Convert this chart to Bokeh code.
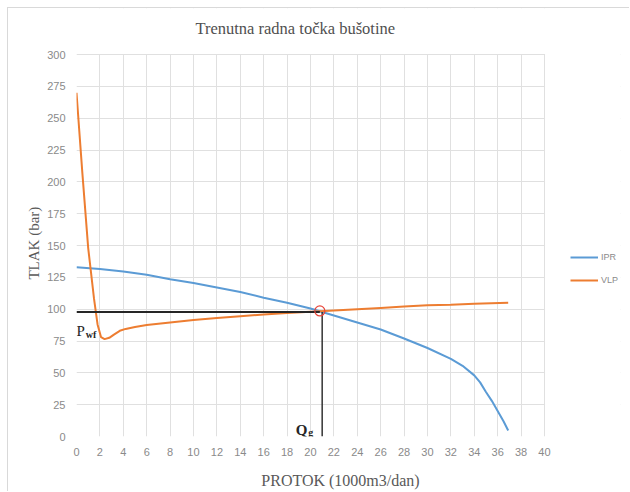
from bokeh.plotting import figure
from bokeh.models import Legend, LegendItem, Label, Range1d, FixedTicker, BoxAnnotation
from bokeh.embed import file_html
from bokeh.resources import INLINE

# ---- data ----
ipr_q = [0, 2, 4, 6, 8, 10, 12, 14, 16, 18, 20, 22, 24, 26, 28, 30, 32, 33, 34, 34.5, 35, 35.5, 36, 36.5, 36.9]
ipr_p = [133, 131.5, 129.5, 127, 123.5, 120.5, 117, 113.5, 109, 105, 100.5, 95, 89.5, 84, 77, 69.5, 61, 55.5, 48, 42.5, 35, 28, 20, 12, 4.7]

vlp_q = [0, 0.5, 1.0, 1.5, 1.8, 2.1, 2.4, 2.8, 3.2, 3.7, 4.2, 5, 6, 8, 10, 12, 14, 16, 18, 20, 22, 24, 26, 28, 30, 32, 34, 36.9]
vlp_p = [270, 207, 148, 108, 88, 78, 76.5, 77.5, 80, 83, 84.5, 86, 87.5, 89.5, 91.5, 93, 94.5, 95.8, 97, 98, 99, 100, 101, 102, 103, 103.5, 104.2, 105]

pwf = 97.8        # bottomhole flowing pressure (bar)
qg = 21.0         # gas rate (1000 m3/dan)
op_q = [20.8]     # operating point
op_p = [98.6]

x_ticks = list(range(0, 41, 2))
y_ticks = list(range(0, 301, 25))

title_text = "Trenutna radna točka bušotine"
x_label = "PROTOK (1000m3/dan)"
y_label = "TLAK (bar)"

X_MAX, Y_MAX = 40, 300
X_VIEW = 46.5     # frame extends right to hold the legend
Y_VIEW = 336.13   # frame extends up to hold the title

# ---- figure ----
p = figure(width=622, height=484, output_backend="svg", toolbar_location=None,
           x_range=Range1d(0, X_VIEW), y_range=Range1d(0, Y_VIEW),
           min_border_left=68, min_border_right=10, min_border_top=0, min_border_bottom=56)
p.styles = {"margin-left": "7px", "margin-top": "7px",
            "border-left": "1px solid #d9d9d9", "border-top": "1px solid #d9d9d9"}
p.outline_line_color = None
p.background_fill_color = "white"
p.border_fill_color = "white"

p.xaxis.ticker = FixedTicker(ticks=x_ticks)
p.yaxis.ticker = FixedTicker(ticks=y_ticks)
p.xaxis.bounds = (0, X_MAX)
p.yaxis.bounds = (0, Y_MAX)
for ax in (p.xaxis[0], p.yaxis[0]):
    ax.axis_line_color = None
    ax.major_tick_line_color = None
    ax.minor_tick_line_color = None
    ax.major_label_text_color = "#8a8a8a"
    ax.major_label_text_font = "Liberation Sans"
    ax.major_label_text_font_size = "11px"
    ax.axis_label_text_font = "Liberation Serif"
    ax.axis_label_text_font_style = "normal"
    ax.axis_label_text_color = "#595959"
# trailing no-break spaces shift the centred labels to sit beside the plotted area
p.xaxis.axis_label = x_label + "\u00a0" * 4
p.yaxis.axis_label = y_label + "\u00a0" * 11
p.xaxis.axis_label_text_font_size = "16px"
p.yaxis.axis_label_text_font_size = "15px"
p.xaxis.major_label_standoff = 5
p.yaxis.major_label_standoff = 5
p.xaxis.axis_label_standoff = 13
p.yaxis.axis_label_standoff = 2

p.xgrid.grid_line_color = "#e0e0e0"
p.ygrid.grid_line_color = "#e0e0e0"

# blank out grid outside the plot area (legend and title zones)
p.add_layout(BoxAnnotation(left=X_MAX + 0.05, fill_color="white", fill_alpha=1.0,
                           line_color=None, level="underlay"))
p.add_layout(BoxAnnotation(bottom=Y_MAX + 0.3, fill_color="white", fill_alpha=1.0,
                           line_color=None, level="underlay"))

r_ipr = p.line(ipr_q, ipr_p, line_color="#5b9bd5", line_width=2)
r_vlp = p.line(vlp_q, vlp_p, line_color="#ed7d31", line_width=2)

# operating point guide lines
p.line([0, op_q[0]], [pwf, pwf], line_color="#262626", line_width=2)
p.line([qg, qg], [0, pwf], line_color="#333333", line_width=1.5)
p.scatter(op_q, op_p, size=10, fill_color=None, line_color="#e8463a", line_width=1.2)

# P_wf and Q_g labels
p.add_layout(Label(x=0.0, y=82.5, text="P", text_font="Liberation Serif", text_font_size="15px",
                   text_color="#262626", text_baseline="alphabetic"))
p.add_layout(Label(x=0.8, y=80.0, text="wf", text_font="Liberation Serif", text_font_size="10px",
                   text_color="#262626", text_font_style="bold", text_baseline="alphabetic"))
p.add_layout(Label(x=18.75, y=5.0, text="Q", text_font="Liberation Serif", text_font_size="15px",
                   text_color="#262626", text_font_style="bold", text_baseline="alphabetic"))
p.add_layout(Label(x=19.8, y=3.0, text="g", text_font="Liberation Serif", text_font_size="10px",
                   text_color="#262626", text_font_style="bold", text_baseline="alphabetic"))

# chart title
p.add_layout(Label(x=18.7, y=320.5, text=title_text, text_font="Liberation Serif",
                   text_font_size="16.5px", text_color="#505050", text_align="center",
                   text_baseline="alphabetic"))

legend = Legend(items=[LegendItem(label="IPR", renderers=[r_ipr]),
                       LegendItem(label="VLP", renderers=[r_vlp])],
                location=(494, 146), glyph_width=28, glyph_height=20, spacing=3,
                padding=0, margin=0, border_line_color=None, background_fill_alpha=0,
                label_text_font="Liberation Sans", label_text_font_size="9px",
                label_text_color="#8a8a8a", label_standoff=3)
p.add_layout(legend)

open("out.html", "w").write(file_html(p, INLINE))
